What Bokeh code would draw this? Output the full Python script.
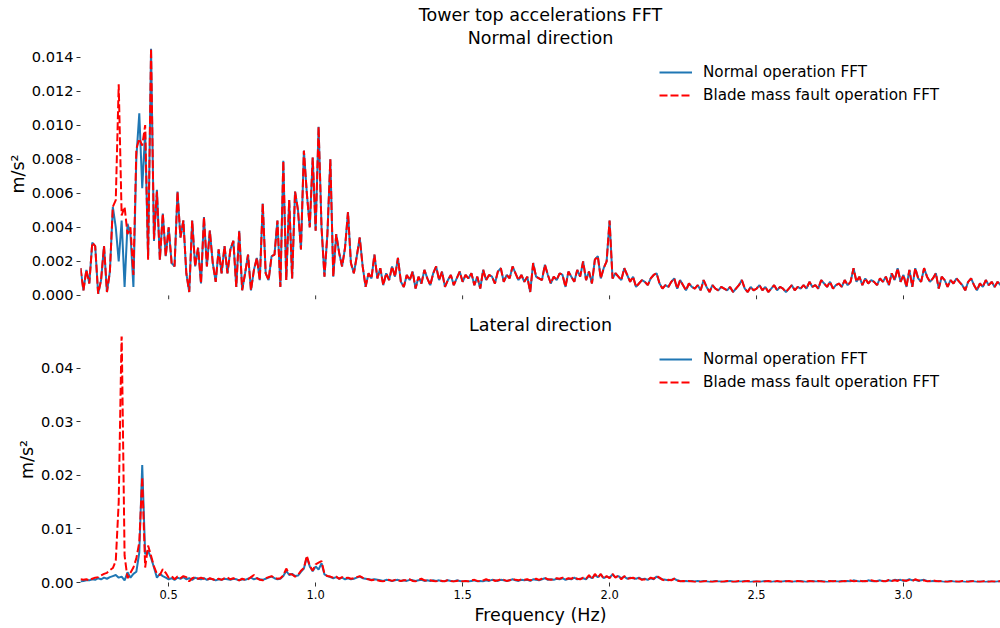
import numpy as np
from bokeh.plotting import figure
from bokeh.layouts import column
from bokeh.models import (Range1d, FixedTicker, PrintfTickFormatter, Legend,
                          LegendItem, Title, ColumnDataSource)
from bokeh.embed import file_html
from bokeh.resources import INLINE

# ---------------- data (FFT amplitude, m/s^2), bins every 0.01 Hz from 0.20 Hz
F_START = 0.20
F_STEP = 0.01

top_normal = [
    0.0016, 0.0003, 0.0015, 0.0007, 0.0031, 0.0029, 0.0001, 0.0009, 0.0029, 0.0002,
    0.0014, 0.0052, 0.0040, 0.0020, 0.0044, 0.0005, 0.0042, 0.0036, 0.0005, 0.0081,
    0.0107, 0.0063, 0.0096, 0.0022, 0.0145, 0.0032, 0.0062, 0.0021, 0.0048, 0.0023,
    0.0040, 0.0019, 0.0017, 0.0061, 0.0034, 0.0044, 0.0013, 0.0002, 0.0044, 0.0017,
    0.0028, 0.0007, 0.0046, 0.0017, 0.0038, 0.0019, 0.0008, 0.0027, 0.0013, 0.0029,
    0.0013, 0.0027, 0.0032, 0.0005, 0.0038, 0.0003, 0.0013, 0.0024, 0.0003, 0.0015,
    0.0022, 0.0009, 0.0054, 0.0013, 0.0009, 0.0023, 0.0024, 0.0044, 0.0005, 0.0079,
    0.0009, 0.0056, 0.0010, 0.0061, 0.0050, 0.0027, 0.0085, 0.0060, 0.0040, 0.0081,
    0.0038, 0.0099, 0.0040, 0.0011, 0.0036, 0.0080, 0.0011, 0.0036, 0.0025, 0.0017,
    0.0028, 0.0049, 0.0019, 0.0013, 0.0023, 0.0034, 0.0017, 0.0005, 0.0013, 0.0010,
    0.0024, 0.0010, 0.0016, 0.0006, 0.0013, 0.0009, 0.0017, 0.0011, 0.0022, 0.0008,
    0.0005, 0.0012, 0.0009, 0.0014, 0.0004, 0.0011, 0.0007, 0.0015, 0.0010, 0.0006,
    0.0013, 0.0017, 0.0009, 0.0014, 0.0005, 0.0009, 0.0012, 0.0006, 0.0010, 0.0014,
    0.0008, 0.0012, 0.0010, 0.0013, 0.0006, 0.0011, 0.0004, 0.0015, 0.0009, 0.0012,
    0.0011, 0.0007, 0.0014, 0.0016, 0.0008, 0.0012, 0.0010, 0.0017, 0.0013, 0.0009,
    0.0012, 0.0008, 0.0011, 0.0002, 0.0019, 0.0011, 0.0010, 0.0009, 0.0018, 0.0012,
    0.0007, 0.0011, 0.0009, 0.0013, 0.0012, 0.0005, 0.0014, 0.0011, 0.0008, 0.0015,
    0.0011, 0.0020, 0.0009, 0.0014, 0.0007, 0.0021, 0.0023, 0.0010, 0.0016, 0.0020,
    0.0044, 0.0010, 0.0013, 0.0011, 0.0009, 0.0016, 0.0012, 0.0008, 0.0011, 0.0005,
    0.0007, 0.0009, 0.0008, 0.0006, 0.0010, 0.0012, 0.0013, 0.0007, 0.0004, 0.0006,
    0.0005, 0.0008, 0.0010, 0.0004, 0.0009, 0.0006, 0.0003, 0.0007, 0.0005, 0.0004,
    0.0006, 0.0003, 0.0009, 0.0005, 0.0002, 0.0006, 0.0004, 0.0003, 0.0005, 0.0004,
    0.0003, 0.0005, 0.0002, 0.0004, 0.0006, 0.0009, 0.0004, 0.0002, 0.0005, 0.0003,
    0.0004, 0.0006, 0.0003, 0.0005, 0.0002, 0.0004, 0.0006, 0.0003, 0.0005, 0.0004,
    0.0002, 0.0004, 0.0006, 0.0003, 0.0005, 0.0004, 0.0006, 0.0004, 0.0008, 0.0005,
    0.0006, 0.0004, 0.0009, 0.0007, 0.0005, 0.0008, 0.0004, 0.0006, 0.0007, 0.0005,
    0.0009, 0.0006, 0.0008, 0.0016, 0.0008, 0.0011, 0.0006, 0.0010, 0.0007, 0.0009,
    0.0008, 0.0006, 0.0010, 0.0008, 0.0011, 0.0006, 0.0013, 0.0009, 0.0016, 0.0008,
    0.0012, 0.0005, 0.0015, 0.0005, 0.0016, 0.0010, 0.0008, 0.0016, 0.0011, 0.0008,
    0.0010, 0.0013, 0.0004, 0.0011, 0.0009, 0.0005, 0.0009, 0.0007, 0.0010, 0.0008,
    0.0006, 0.0003, 0.0008, 0.0010, 0.0006, 0.0003, 0.0007, 0.0005, 0.0009, 0.0006,
    0.0008, 0.0005, 0.0008, 0.0006,
]

# fault run, 0.20-0.47 Hz; above 0.47 Hz it lies on the normal curve
top_fault_head = [
    0.0016, 0.0003, 0.0015, 0.0007, 0.0031, 0.0029, 0.0001, 0.0009, 0.0029, 0.0002,
    0.0014, 0.0052, 0.0056, 0.0124, 0.0047, 0.0052, 0.0036, 0.0040, 0.0012, 0.0086,
    0.0092, 0.0088, 0.0100, 0.0021, 0.0145, 0.0033, 0.0061, 0.0021,
]

bottom_normal = [
    0.0002, 0.0003, 0.0004, 0.0004, 0.0006, 0.0005, 0.0008, 0.0006, 0.0009, 0.0007,
    0.0010, 0.0012, 0.0014, 0.0009, 0.0011, 0.0004, 0.0019, 0.0009, 0.0016, 0.0020,
    0.0056, 0.0219, 0.0053, 0.0059, 0.0046, 0.0028, 0.0009, 0.0016, 0.0012, 0.0009,
    0.0006, 0.0008, 0.0005, 0.0009, 0.0007, 0.0010, 0.0006, 0.0008, 0.0005, 0.0009,
    0.0007, 0.0006, 0.0008, 0.0005, 0.0007, 0.0006, 0.0004, 0.0006, 0.0005, 0.0007,
    0.0006, 0.0005, 0.0007, 0.0006, 0.0004, 0.0006, 0.0005, 0.0007, 0.0009, 0.0006,
    0.0008, 0.0006, 0.0005, 0.0007, 0.0009, 0.0011, 0.0008, 0.0006, 0.0007, 0.0012,
    0.0022, 0.0014, 0.0016, 0.0012, 0.0013, 0.0020, 0.0026, 0.0047, 0.0030, 0.0021,
    0.0030, 0.0024, 0.0036, 0.0015, 0.0012, 0.0010, 0.0008, 0.0010, 0.0007, 0.0009,
    0.0006, 0.0008, 0.0006, 0.0007, 0.0009, 0.0011, 0.0008, 0.0007, 0.0006, 0.0005,
    0.0006, 0.0005, 0.0004, 0.0003, 0.0005, 0.0004, 0.0003, 0.0004, 0.0005, 0.0003,
    0.0004, 0.0003, 0.0005, 0.0004, 0.0003, 0.0004, 0.0005, 0.0003, 0.0004, 0.0003,
    0.0004, 0.0003, 0.0004, 0.0002, 0.0003, 0.0004, 0.0003, 0.0002, 0.0004, 0.0003,
    0.0002, 0.0003, 0.0002, 0.0003, 0.0004, 0.0002, 0.0003, 0.0002, 0.0004, 0.0003,
    0.0005, 0.0004, 0.0003, 0.0005, 0.0004, 0.0003, 0.0004, 0.0006, 0.0004, 0.0003,
    0.0005, 0.0004, 0.0005, 0.0003, 0.0006, 0.0005, 0.0004, 0.0006, 0.0008, 0.0005,
    0.0006, 0.0005, 0.0007, 0.0006, 0.0008, 0.0005, 0.0007, 0.0006, 0.0009, 0.0006,
    0.0007, 0.0008, 0.0006, 0.0012, 0.0008, 0.0014, 0.0010, 0.0015, 0.0008, 0.0011,
    0.0009, 0.0015, 0.0010, 0.0012, 0.0008, 0.0011, 0.0007, 0.0009, 0.0008, 0.0007,
    0.0009, 0.0006, 0.0007, 0.0005, 0.0008, 0.0006, 0.0011, 0.0008, 0.0006, 0.0005,
    0.0004, 0.0005, 0.0007, 0.0004, 0.0003, 0.0002, 0.0003, 0.0002, 0.0003, 0.0002,
    0.0003, 0.0002, 0.0003, 0.0002, 0.0001, 0.0002, 0.0003, 0.0002, 0.0002, 0.0001,
    0.0002, 0.0003, 0.0002, 0.0001, 0.0002, 0.0002, 0.0003, 0.0002, 0.0001, 0.0002,
    0.0002, 0.0001, 0.0002, 0.0003, 0.0002, 0.0001, 0.0002, 0.0002, 0.0001, 0.0002,
    0.0003, 0.0002, 0.0001, 0.0002, 0.0002, 0.0003, 0.0002, 0.0001, 0.0002, 0.0003,
    0.0002, 0.0002, 0.0003, 0.0002, 0.0001, 0.0002, 0.0003, 0.0002, 0.0002, 0.0003,
    0.0002, 0.0003, 0.0002, 0.0004, 0.0003, 0.0002, 0.0003, 0.0002, 0.0004, 0.0003,
    0.0002, 0.0003, 0.0004, 0.0002, 0.0003, 0.0004, 0.0003, 0.0005, 0.0004, 0.0005,
    0.0003, 0.0004, 0.0006, 0.0004, 0.0005, 0.0003, 0.0004, 0.0005, 0.0003, 0.0002,
    0.0003, 0.0002, 0.0003, 0.0002, 0.0001, 0.0002, 0.0003, 0.0002, 0.0001, 0.0002,
    0.0002, 0.0001, 0.0002, 0.0003, 0.0002, 0.0001, 0.0002, 0.0002, 0.0001, 0.0002,
    0.0002, 0.0001, 0.0002, 0.0002,
]

bottom_fault = [
    0.0006, 0.0005, 0.0006, 0.0004, 0.0007, 0.0009, 0.0010, 0.0013, 0.0016, 0.0018,
    0.0023, 0.0027, 0.0040, 0.0150, 0.0470, 0.0050, 0.0008, 0.0018, 0.0028, 0.0045,
    0.0075, 0.0197, 0.0028, 0.0069, 0.0050, 0.0030, 0.0016, 0.0014, 0.0025, 0.0018,
    0.0009, 0.0012, 0.0006, 0.0011, 0.0008, 0.0012, 0.0010, 0.0002, 0.0008, 0.0010,
    0.0007, 0.0009, 0.0007, 0.0005, 0.0008, 0.0006, 0.0004, 0.0007, 0.0005, 0.0008,
    0.0009, 0.0006, 0.0008, 0.0005, 0.0004, 0.0007, 0.0005, 0.0006, 0.0010, 0.0014,
    0.0008, 0.0005, 0.0004, 0.0008, 0.0010, 0.0012, 0.0009, 0.0007, 0.0008, 0.0013,
    0.0026, 0.0016, 0.0015, 0.0011, 0.0014, 0.0022, 0.0027, 0.0050, 0.0031, 0.0022,
    0.0034, 0.0037, 0.0040, 0.0016, 0.0012, 0.0011, 0.0009, 0.0011, 0.0007, 0.0010,
    0.0008, 0.0009, 0.0007, 0.0008, 0.0010, 0.0012, 0.0009, 0.0007, 0.0006, 0.0004,
    0.0005, 0.0004, 0.0003, 0.0002, 0.0004, 0.0005, 0.0003, 0.0005, 0.0004, 0.0003,
    0.0004, 0.0004, 0.0006, 0.0003, 0.0002, 0.0005, 0.0007, 0.0004, 0.0003, 0.0004,
    0.0003, 0.0002, 0.0004, 0.0003, 0.0002, 0.0005, 0.0003, 0.0002, 0.0003, 0.0004,
    0.0002, 0.0003, 0.0002, 0.0004, 0.0005, 0.0003, 0.0002, 0.0004, 0.0006, 0.0004,
    0.0006, 0.0003, 0.0004, 0.0006, 0.0005, 0.0003, 0.0004, 0.0007, 0.0005, 0.0004,
    0.0006, 0.0005, 0.0006, 0.0004, 0.0005, 0.0007, 0.0005, 0.0007, 0.0009, 0.0006,
    0.0005, 0.0006, 0.0008, 0.0007, 0.0009, 0.0006, 0.0008, 0.0007, 0.0010, 0.0007,
    0.0006, 0.0009, 0.0007, 0.0014, 0.0006, 0.0016, 0.0009, 0.0016, 0.0007, 0.0012,
    0.0008, 0.0016, 0.0009, 0.0013, 0.0006, 0.0012, 0.0007, 0.0008, 0.0009, 0.0006,
    0.0008, 0.0005, 0.0006, 0.0005, 0.0009, 0.0007, 0.0012, 0.0009, 0.0005, 0.0004,
    0.0005, 0.0004, 0.0007, 0.0004, 0.0002, 0.0003, 0.0002, 0.0003, 0.0002, 0.0001,
    0.0002, 0.0001, 0.0002, 0.0003, 0.0002, 0.0001, 0.0002, 0.0003, 0.0001, 0.0002,
    0.0003, 0.0002, 0.0001, 0.0002, 0.0003, 0.0001, 0.0002, 0.0003, 0.0002, 0.0001,
    0.0002, 0.0002, 0.0001, 0.0002, 0.0003, 0.0002, 0.0001, 0.0003, 0.0002, 0.0001,
    0.0002, 0.0003, 0.0002, 0.0001, 0.0003, 0.0002, 0.0001, 0.0002, 0.0003, 0.0002,
    0.0001, 0.0003, 0.0002, 0.0001, 0.0002, 0.0003, 0.0002, 0.0003, 0.0001, 0.0002,
    0.0003, 0.0002, 0.0004, 0.0002, 0.0003, 0.0004, 0.0002, 0.0003, 0.0002, 0.0004,
    0.0003, 0.0002, 0.0004, 0.0003, 0.0002, 0.0005, 0.0003, 0.0004, 0.0003, 0.0006,
    0.0004, 0.0003, 0.0005, 0.0003, 0.0006, 0.0004, 0.0003, 0.0004, 0.0002, 0.0003,
    0.0004, 0.0003, 0.0002, 0.0003, 0.0002, 0.0001, 0.0002, 0.0003, 0.0002, 0.0001,
    0.0003, 0.0002, 0.0001, 0.0002, 0.0003, 0.0002, 0.0001, 0.0002, 0.0003, 0.0001,
    0.0002, 0.0002, 0.0001, 0.0003,
]

top_fault = top_fault_head + top_normal[len(top_fault_head):]

x_ticks = [0.5, 1.0, 1.5, 2.0, 2.5, 3.0]
top_y_ticks = [0.000, 0.002, 0.004, 0.006, 0.008, 0.010, 0.012, 0.014]
bottom_y_ticks = [0.00, 0.01, 0.02, 0.03, 0.04]

labels = ["Normal operation FFT", "Blade mass fault operation FFT"]
X_MIN, X_MAX = 0.20, 3.33
TOP_YMAX = 0.0145
BOTTOM_YMAX = 0.0459
TOP_TICK_DEPTH = 0.00024   # room under the top frame for its x tick marks

FONT = "DejaVu Sans"
BLUE = "#1f77b4"
RED = "#ff0000"
TICK = "#333333"


def freqs(n):
    return [round(F_START + F_STEP * i, 2) for i in range(n)]


def style_axis(ax):
    ax.axis_line_color = None
    ax.major_tick_line_color = TICK
    ax.major_tick_out = 4
    ax.major_tick_in = 0
    ax.minor_tick_line_color = None
    ax.major_label_text_font = FONT
    ax.axis_label_text_font = FONT
    ax.axis_label_text_font_style = "normal"
    ax.major_label_text_color = "black"
    ax.axis_label_text_color = "black"


def make_panel(height, ymin, ymax, yticks, yfmt, normal, fault, min_top,
               min_bottom, last, legend_y):
    p = figure(width=1000, height=height,
               x_range=Range1d(X_MIN, X_MAX), y_range=Range1d(ymin, ymax),
               output_backend="svg", toolbar_location=None,
               min_border_left=80, min_border_right=0,
               min_border_top=min_top, min_border_bottom=min_bottom)
    p.outline_line_color = None
    p.grid.visible = False
    p.background_fill_color = "white"
    p.border_fill_color = "white"

    src_n = ColumnDataSource(dict(f=freqs(len(normal)), a=normal))
    src_f = ColumnDataSource(dict(f=freqs(len(fault)), a=fault))
    rn = p.line("f", "a", source=src_n, line_color=BLUE, line_width=2)
    rf = p.line("f", "a", source=src_f, line_color=RED, line_width=2,
                line_dash="8 3")

    style_axis(p.yaxis[0])
    p.yaxis.ticker = FixedTicker(ticks=yticks)
    p.yaxis.formatter = PrintfTickFormatter(format=yfmt)
    p.yaxis.major_label_text_font_size = "14.6px"
    p.yaxis.major_label_standoff = 3
    p.yaxis.axis_label = "m/s²"
    p.yaxis.axis_label_text_font_size = "17.5px"
    p.yaxis.axis_label_standoff = 1

    if last:
        style_axis(p.xaxis[0])
        p.xaxis.ticker = FixedTicker(ticks=x_ticks)
        p.xaxis.formatter = PrintfTickFormatter(format="%.1f")
        p.xaxis.major_label_text_font_size = "11.5px"
        p.xaxis.major_label_standoff = 3
        p.xaxis.axis_label = "Frequency (Hz)"
        p.xaxis.axis_label_text_font_size = "17.5px"
        p.xaxis.axis_label_standoff = 3
    else:
        # shared x axis: tick marks only, no labels
        p.xaxis.visible = False
        p.segment(x0=x_ticks, x1=x_ticks, y0=[ymin] * len(x_ticks),
                  y1=[0.0] * len(x_ticks), line_color=TICK, line_width=1)

    legend = Legend(items=[LegendItem(label=labels[0], renderers=[rn]),
                           LegendItem(label=labels[1], renderers=[rf])],
                    location=(579, legend_y))
    legend.border_line_color = None
    legend.background_fill_alpha = 0
    legend.label_text_font = FONT
    legend.label_text_font_size = "15.2px"
    legend.label_text_color = "black"
    legend.glyph_width = 33
    legend.label_standoff = 11
    legend.padding = 10
    legend.spacing = 3
    legend.margin = 0
    p.add_layout(legend)
    return p


def style_title(t, standoff):
    t.align = "center"
    t.text_font = FONT
    t.text_font_size = "17.5px"
    t.text_font_style = "normal"
    t.text_color = "black"
    t.standoff = standoff


top = make_panel(308, -TOP_TICK_DEPTH, TOP_YMAX, top_y_ticks, "%.3f",
                 top_normal, top_fault, 48, 9, False, 194)
# the added title sits nearest the frame, so the figure title is the top line
top.title.text = "Tower top accelerations FFT"
style_title(top.title, 0)
t2 = Title(text="Normal direction")
style_title(t2, 2)
top.add_layout(t2, "above")

bottom = make_panel(320, 0, BOTTOM_YMAX, bottom_y_ticks, "%.2f", bottom_normal,
                    bottom_fault, 28, 46, True, 190)
bottom.title.text = "Lateral direction"
style_title(bottom.title, 3)

layout = column(top, bottom, spacing=0)
open("out.html", "w").write(file_html(layout, INLINE))
